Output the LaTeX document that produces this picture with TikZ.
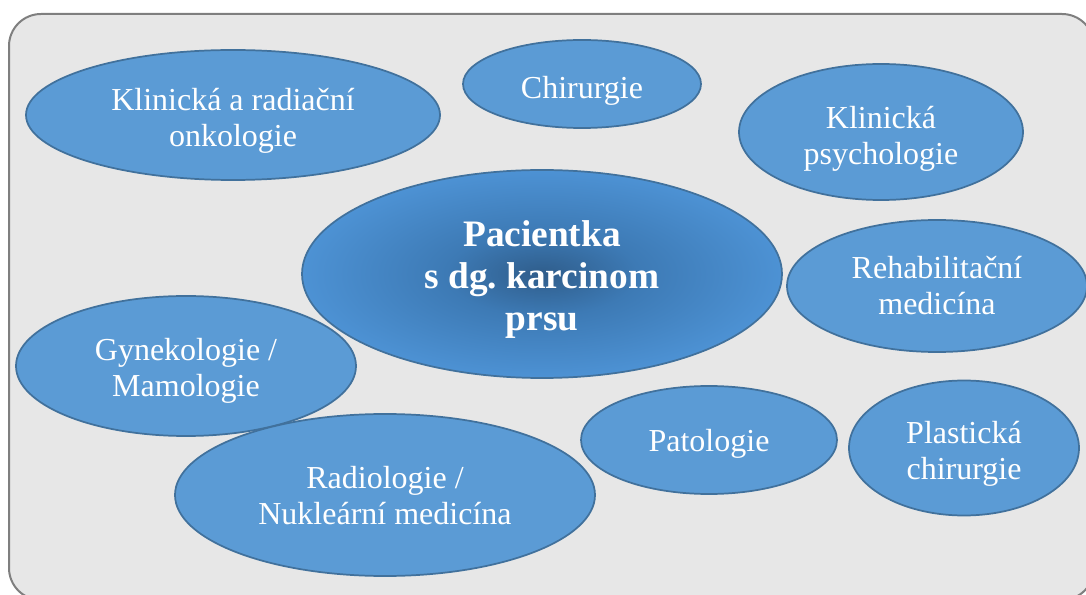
\documentclass[tikz,border=0pt]{standalone}
\usepackage{fontspec}
\setmainfont{Liberation Serif}
\usetikzlibrary{shapes.geometric}
\definecolor{bgfill}{HTML}{E7E7E7}
\definecolor{bgline}{HTML}{7F7F7F}
\definecolor{ellfill}{HTML}{5B9BD5}
\definecolor{ellline}{HTML}{41719C}
\definecolor{cdark}{HTML}{2F5D8B}
\definecolor{cmid}{HTML}{3D7AB5}
\definecolor{cedge}{HTML}{4D92D4}
\pgfdeclareradialshading{centreglow}{\pgfpoint{0bp}{0bp}}{color(0bp)=(cdark); color(10bp)=(cmid); color(25bp)=(cedge); color(50bp)=(cedge)}
% text block pushed down inside its ellipse by half of #1
\newcommand\droptext[2][8pt]{\raisebox{0pt}[\dimexpr\height+#1\relax][\depth]{\begin{tabular}{@{}c@{}}#2\end{tabular}}}
\tikzset{
  field/.style={ellipse, draw=ellline, fill=ellfill, line width=1.3pt, inner sep=0pt,
    text=white, font=\fontsize{24}{27}\selectfont},
  hub/.style={ellipse, draw=ellline, shading=centreglow, line width=1.3pt, inner sep=0pt,
    text=white, font=\fontsize{28}{31.5}\selectfont\bfseries},
  frame/.style={draw=bgline, fill=bgfill, line width=1.5pt, rounded corners=24pt}
}
\begin{document}
\begin{tikzpicture}[x=0.75pt, y=-0.75pt]
\useasboundingbox (0,0) rectangle (1086,595);
\clip (0,0) rectangle (1086,595);
\draw[frame] (9,14) rectangle (1094,600);
\node[field, minimum width=310.5pt, minimum height=97.5pt] (onko) at (233,115) {\droptext[9pt]{Klinická a radiační\\onkologie}};
\node[field, minimum width=178.5pt, minimum height=66pt] (chir) at (582,84) {\droptext[10.5pt]{Chirurgie}};
\node[field, minimum width=213pt, minimum height=102pt] (psych) at (881,132) {\droptext[10.5pt]{Klinická\\psychologie}};
\node[hub, minimum width=360pt, minimum height=156pt] (pac) at (542,274) {\droptext[9pt]{Pacientka\\s dg.\ karcinom\\prsu}};
\node[field, minimum width=225pt, minimum height=99pt] (rehab) at (937,286) {\droptext[4.5pt]{Rehabilitační\\medicína}};
\node[field, minimum width=255pt, minimum height=105pt] (gyn) at (186,366) {\droptext[7.5pt]{Gynekologie /\\Mamologie}};
\node[field, minimum width=192pt, minimum height=81pt] (pat) at (709,440) {\droptext[6pt]{Patologie}};
\node[field, minimum width=172.5pt, minimum height=101.25pt] (plast) at (964,448) {\droptext[9pt]{Plastická\\chirurgie}};
\node[field, minimum width=315pt, minimum height=121.5pt] (radio) at (385,495) {\droptext[6pt]{Radiologie /\\Nukleární medicína}};
\end{tikzpicture}
\end{document}
